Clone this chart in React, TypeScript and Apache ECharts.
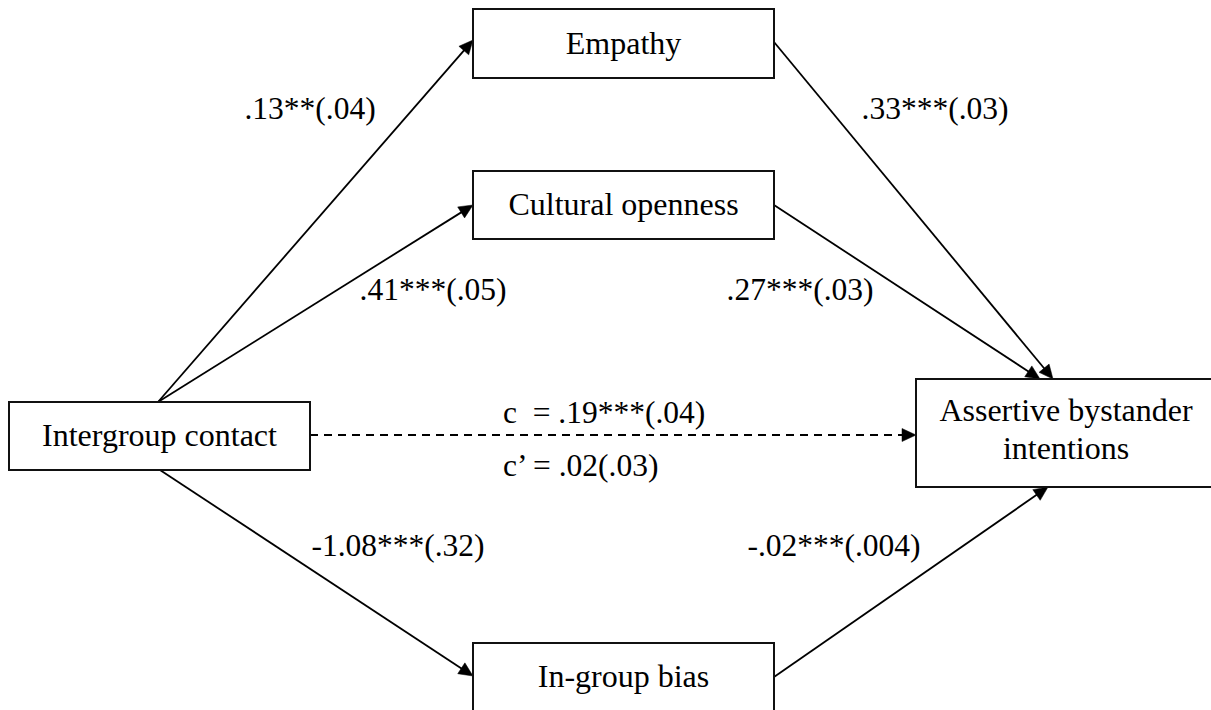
import React, { useEffect, useRef } from "react";
import * as echarts from "echarts";

// ---- content ----
const nodeNames = [
  "Intergroup contact",
  "Empathy",
  "Cultural openness",
  "In-group bias",
  "Assertive bystander\nintentions",
];
const pathCoefficients = [
  ".13**(.04)",
  ".41***(.05)",
  ".33***(.03)",
  ".27***(.03)",
  "-1.08***(.32)",
  "-.02***(.004)",
];
const totalEffectLabel = "c  = .19***(.04)";
const directEffectLabel = "c\u2019 = .02(.03)";

// ---- layout (pixel space of the 1211x710 canvas) ----
const nodeBoxes = [
  [9, 402, 310, 470],
  [473, 9, 774, 78],
  [473, 171, 774, 239],
  [473, 643, 774, 712],
  [916, 379, 1217, 487],
];
const nodeTextPos = [
  [159.5, 435],
  [623.5, 43],
  [623.5, 204],
  [623.5, 676],
  [1066, 429],
];
// x1, y1, x2, y2, dashed
const edges = [
  [158, 402, 473, 40, 0],
  [158, 402, 473, 205, 0],
  [774, 42, 1053, 379, 0],
  [774, 205, 1040, 379, 0],
  [160, 470, 473, 676, 0],
  [774, 677, 1048, 487, 0],
  [310, 435, 916, 435, 1],
];
const edgeLabelPos = [
  [310, 108, 0],
  [433, 289, 0],
  [935, 108, 0],
  [800, 289, 0],
  [398, 545, 0],
  [834, 545, 0],
  [503, 412, 1],
  [503, 465, 1],
];
const edgeLabels = [...pathCoefficients, totalEffectLabel, directEffectLabel];

const FONT = "Liberation Serif, Times New Roman, serif";

export default function App() {
  const ref = useRef<HTMLDivElement>(null);
  useEffect(() => {
    document.body.style.margin = "0";
    if (!ref.current) return;
    const chart = echarts.init(ref.current, undefined, { renderer: "svg" });
    chart.setOption({
      animation: false,
      backgroundColor: "#ffffff",
      grid: { left: 0, right: 0, top: 0, bottom: 0 },
      xAxis: { type: "value", min: 0, max: 1211, show: false },
      yAxis: { type: "value", min: 0, max: 710, inverse: true, show: false },
      series: [
        {
          type: "custom",
          name: "edges",
          clip: false,
          data: edges,
          renderItem: (params: any, api: any) => {
            const p1 = api.coord([api.value(0), api.value(1)]);
            const p2 = api.coord([api.value(2), api.value(3)]);
            const dashed = api.value(4) === 1;
            const dx = p2[0] - p1[0];
            const dy = p2[1] - p1[1];
            const len = Math.hypot(dx, dy);
            const ux = dx / len;
            const uy = dy / len;
            const L = 14;
            const W = 6.5;
            const bx = p2[0] - ux * L;
            const by = p2[1] - uy * L;
            const px = -uy;
            const py = ux;
            return {
              type: "group",
              children: [
                {
                  type: "line",
                  shape: { x1: p1[0], y1: p1[1], x2: bx + ux * 2, y2: by + uy * 2 },
                  style: {
                    stroke: "#000",
                    lineWidth: 1.8,
                    lineDash: dashed ? [8, 6] : null,
                  },
                },
                {
                  type: "polygon",
                  shape: {
                    points: [
                      [p2[0], p2[1]],
                      [bx + px * W, by + py * W],
                      [bx - px * W, by - py * W],
                    ],
                  },
                  style: { fill: "#000", stroke: "#000", lineWidth: 0.5 },
                },
              ],
            };
          },
        },
        {
          type: "custom",
          name: "nodes",
          clip: false,
          data: nodeBoxes,
          renderItem: (params: any, api: any) => {
            const a = api.coord([api.value(0), api.value(1)]);
            const b = api.coord([api.value(2), api.value(3)]);
            const t = nodeTextPos[params.dataIndex];
            const tp = api.coord([t[0], t[1]]);
            return {
              type: "group",
              children: [
                {
                  type: "rect",
                  shape: { x: a[0], y: a[1], width: b[0] - a[0], height: b[1] - a[1] },
                  style: { fill: "#fff", stroke: "#111", lineWidth: 2 },
                },
                {
                  type: "text",
                  x: tp[0],
                  y: tp[1],
                  style: {
                    text: nodeNames[params.dataIndex],
                    fontFamily: FONT,
                    fontSize: 32,
                    lineHeight: 38,
                    fill: "#000",
                    align: "center",
                    verticalAlign: "middle",
                  },
                },
              ],
            };
          },
        },
        {
          type: "custom",
          name: "coefficients",
          clip: false,
          data: edgeLabelPos,
          renderItem: (params: any, api: any) => {
            const p = api.coord([api.value(0), api.value(1)]);
            const left = api.value(2) === 1;
            return {
              type: "text",
              x: p[0],
              y: p[1],
              style: {
                text: edgeLabels[params.dataIndex],
                fontFamily: FONT,
                fontSize: 31.5,
                fill: "#000",
                align: left ? "left" : "center",
                verticalAlign: "middle",
              },
            };
          },
        },
      ],
    });
    return () => chart.dispose();
  }, []);
  return <div ref={ref} style={{ width: 1211, height: 710 }} />;
}
